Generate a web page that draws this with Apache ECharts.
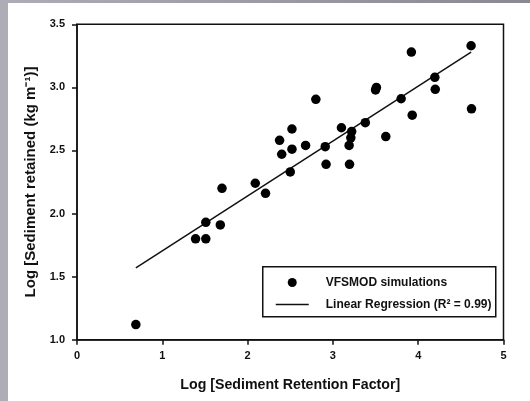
<!DOCTYPE html>
<html>
<head>
<meta charset="utf-8">
<script src="https://cdn.jsdelivr.net/npm/echarts@6/dist/echarts.min.js"></script>
<style>html,body{margin:0;padding:0;background:#fff}#c{width:530px;height:401px}</style>
</head>
<body>
<div id="c"></div>
<script>
// Data
const simX = [0.69, 1.39, 1.51, 1.51, 1.68, 1.70, 2.09, 2.21, 2.375, 2.40, 2.50, 2.52, 2.52, 2.68, 2.80, 2.91, 2.92, 3.10, 3.19, 3.195, 3.21, 3.22, 3.38, 3.50, 3.51, 3.62, 3.80, 3.93, 3.92, 4.195, 4.20, 4.62, 4.625];
const simY = [1.12, 1.80, 1.80, 1.93, 1.91, 2.20, 2.24, 2.16, 2.58, 2.47, 2.33, 2.51, 2.67, 2.54, 2.905, 2.53, 2.39, 2.68, 2.54, 2.39, 2.60, 2.65, 2.72, 2.98, 3.00, 2.61, 2.91, 2.78, 3.28, 3.08, 2.985, 3.33, 2.83];
const regX = [0.69, 4.62];
const regY = [1.57, 3.28];
const xTicks = [0, 1, 2, 3, 4, 5];
const yTicks = ['1.0', '1.5', '2.0', '2.5', '3.0', '3.5'];
const seriesNames = ['VFSMOD simulations', 'Linear Regression (R\u00B2 = 0.99)'];
const xTitle = 'Log [Sediment Retention Factor]';
const yTitle = 'Log [Sediment retained (kg m\u207B\u00B9)]';

const font = '"Liberation Sans", Arial, sans-serif';
const chart = echarts.init(document.getElementById('c'), null, {renderer: 'canvas'});
chart.setOption({
  animation: false,
  backgroundColor: '#fff',
  textStyle: {fontFamily: font},
  grid: {left: 77, right: 26.5, top: 24.3, bottom: 61.3, show: true, borderColor: '#111', borderWidth: 1.5, backgroundColor: 'transparent'},
  xAxis: {
    type: 'value', min: 0, max: 5, interval: 1,
    name: xTitle, nameLocation: 'middle', nameGap: 38,
    nameTextStyle: {fontFamily: font, fontWeight: 'bold', fontSize: 14.2, color: '#111'},
    axisLine: {show: true, lineStyle: {color: '#111', width: 1.5}},
    axisTick: {show: true, length: 5, lineStyle: {color: '#111', width: 1.5}},
    axisLabel: {margin: 11, fontFamily: font, fontWeight: 'bold', fontSize: 11, color: '#111',
      formatter: v => String(xTicks[Math.round(v)])},
    splitLine: {show: false}
  },
  yAxis: {
    type: 'value', min: 1, max: 3.5, interval: 0.5,
    name: yTitle, nameLocation: 'middle', nameGap: 35, nameRotate: 90,
    nameTextStyle: {fontFamily: font, fontWeight: 'bold', fontSize: 15, color: '#111'},
    axisLine: {show: true, lineStyle: {color: '#111', width: 1.5}},
    axisTick: {show: true, length: 5, lineStyle: {color: '#111', width: 1.5}},
    axisLabel: {margin: 12, fontFamily: font, fontWeight: 'bold', fontSize: 11, color: '#111',
      formatter: v => yTicks[Math.round((v - 1) / 0.5)]},
    splitLine: {show: false}
  },
  legend: {
    orient: 'vertical', left: 270, top: 271.5, itemWidth: 33, itemHeight: 9, itemGap: 10,
    textStyle: {fontFamily: font, fontWeight: 'bold', fontSize: 12, color: '#111', padding: [0, 0, 0, 12]},
    data: [
      {name: seriesNames[0], icon: 'circle', itemStyle: {color: '#000', opacity: 1}},
      {name: seriesNames[1], itemStyle: {opacity: 0, color: 'transparent', borderWidth: 0}, lineStyle: {color: '#111', width: 1.5}}
    ]
  },
  graphic: [
    {type: 'rect', left: 0, top: 0, shape: {width: 8, height: 401}, style: {fill: '#aeacb6'}, z: 100},
    {type: 'rect', left: 0, top: 0, shape: {width: 530, height: 3},
      style: {fill: new echarts.graphic.LinearGradient(0, 0, 1, 0, [{offset: 0, color: '#aeacb6'}, {offset: 1, color: '#8a8893'}])}, z: 100},
    {type: 'rect', left: 262, top: 266, shape: {width: 233, height: 50}, style: {fill: 'transparent', stroke: '#111', lineWidth: 1.5}, z: 50}
  ],
  series: [
    {name: seriesNames[0], type: 'scatter', symbol: 'circle', symbolSize: 9.5,
      itemStyle: {color: '#000', opacity: 1}, data: simX.map((x, i) => [x, simY[i]]), z: 3},
    {name: seriesNames[1], type: 'line', symbol: 'none', showSymbol: false,
      lineStyle: {color: '#111', width: 1.5},
      data: regX.map((x, i) => [x, regY[i]]), z: 2}
  ]
});
</script>
</body>
</html>
